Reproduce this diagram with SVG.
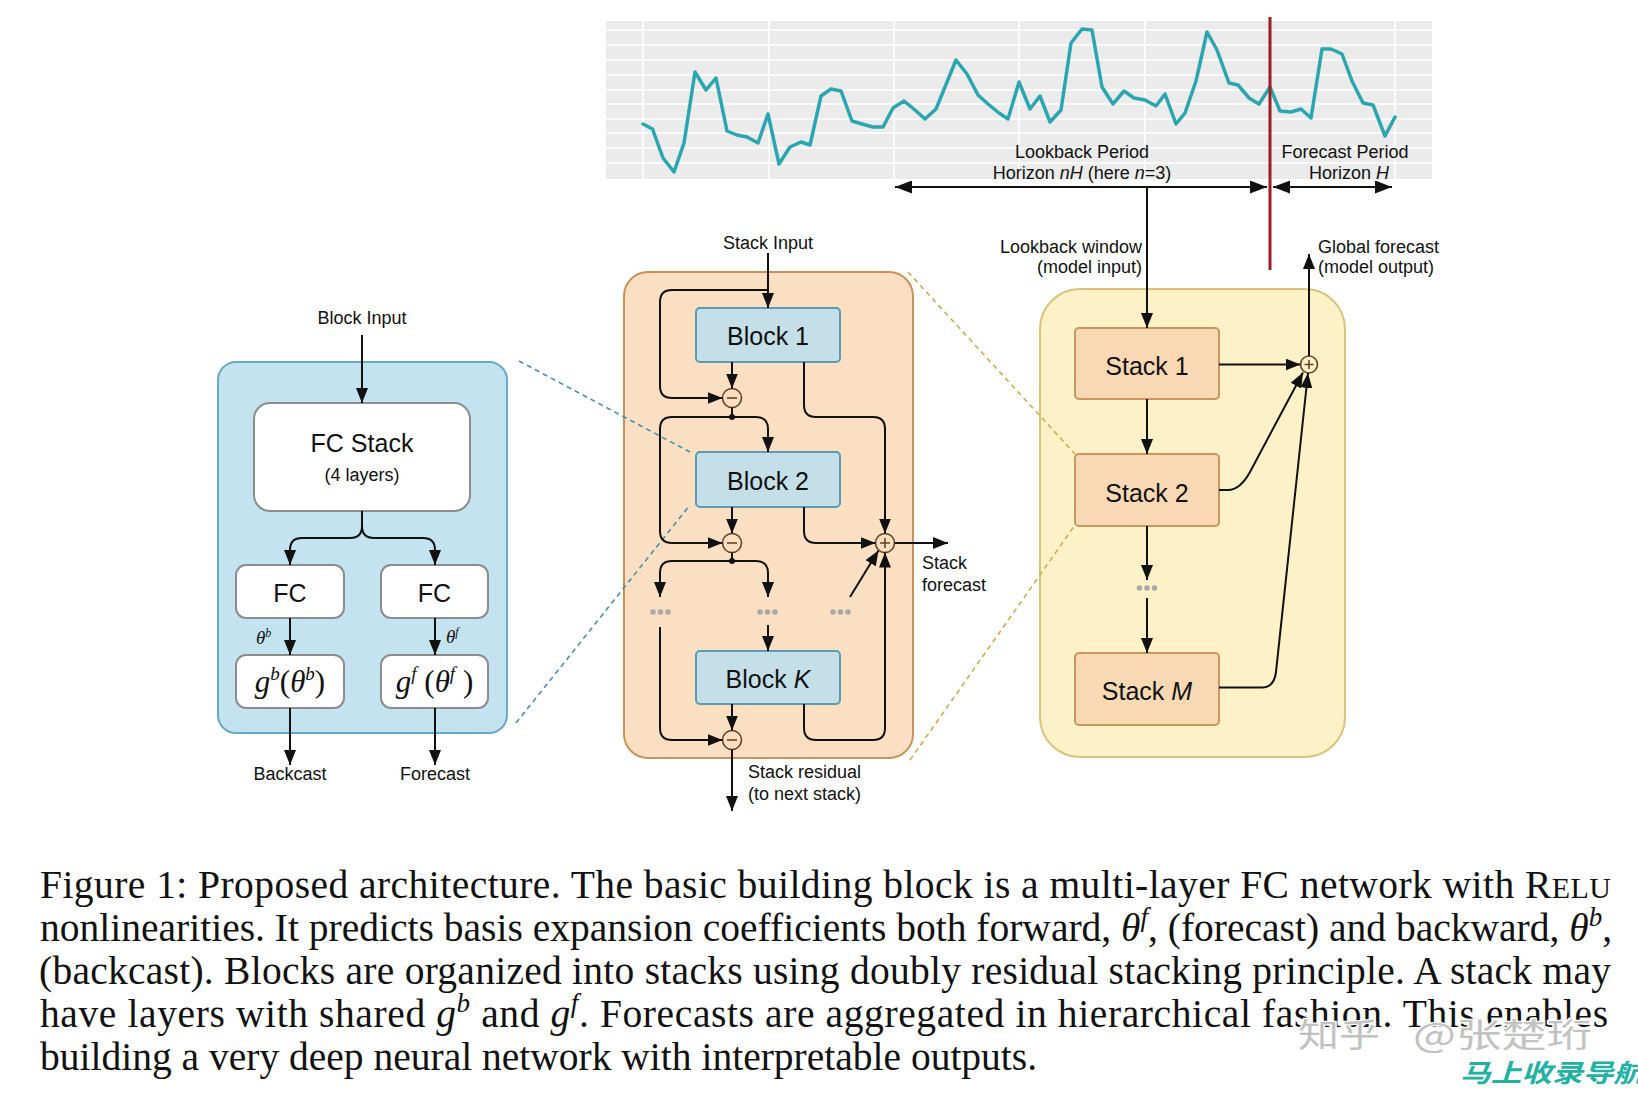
<svg xmlns="http://www.w3.org/2000/svg" width="1638" height="1096" viewBox="0 0 1638 1096">
<defs>
<marker id="ah" viewBox="0 0 15 12" markerWidth="15" markerHeight="12" refX="15" refY="6" orient="auto-start-reverse" markerUnits="userSpaceOnUse"><path d="M0,0 L15,6 L0,12 z" fill="#111"/></marker>
<marker id="ahb" viewBox="0 0 17 13" markerWidth="17" markerHeight="13" refX="17" refY="6.5" orient="auto-start-reverse" markerUnits="userSpaceOnUse"><path d="M0,0 L17,6.5 L0,13 z" fill="#111"/></marker>
<style>
.sans{font-family:"Liberation Sans",Arial,sans-serif;fill:#111}
.serif{font-family:"Liberation Serif","Times New Roman",serif;fill:#111}
.lbl{font-size:18px}
.big{font-size:25px}
.c{text-anchor:middle}
.r{text-anchor:end}
.it{font-style:italic}
.wire{fill:none;stroke:#111;stroke-width:2}
.arr{marker-end:url(#ah)}
.fcbox{fill:#fff;stroke:#8c8c8c;stroke-width:2}
.blk{fill:#c4dfe8;stroke:#5d9ab4;stroke-width:2}
.stk{fill:#f9d9b4;stroke:#c8965e;stroke-width:2}
.op{stroke:#6b4320;stroke-width:1.6}
.dots{fill:#a9a9a9}
.grid{stroke:#fff;stroke-width:1.6}
.cap{font-size:39.5px}
.dashb{fill:none;stroke:#4f8ea6;stroke-width:1.6;stroke-dasharray:5 4}
.dasho{fill:none;stroke:#d5a94e;stroke-width:1.6;stroke-dasharray:5 4}
</style>
</defs>
<rect width="1638" height="1096" fill="#fff"/>

<!-- time series chart -->
<g id="chart">
<rect x="606" y="21" width="826" height="158" fill="#ebebeb"/>
<g class="grid">
<line x1="606" y1="30" x2="1432" y2="30"/><line x1="606" y1="45" x2="1432" y2="45"/><line x1="606" y1="60" x2="1432" y2="60"/><line x1="606" y1="75" x2="1432" y2="75"/><line x1="606" y1="90" x2="1432" y2="90"/><line x1="606" y1="104" x2="1432" y2="104"/><line x1="606" y1="119" x2="1432" y2="119"/><line x1="606" y1="133" x2="1432" y2="133"/><line x1="606" y1="148" x2="1432" y2="148"/><line x1="606" y1="163" x2="1432" y2="163"/>
<line x1="643" y1="21" x2="643" y2="179"/><line x1="769" y1="21" x2="769" y2="179"/><line x1="894" y1="21" x2="894" y2="179"/><line x1="1019" y1="21" x2="1019" y2="179"/><line x1="1145" y1="21" x2="1145" y2="179"/><line x1="1395" y1="21" x2="1395" y2="179"/>
</g>
<polyline fill="none" stroke="#2ba6b0" stroke-width="3.5" stroke-linejoin="round" stroke-linecap="round" points="643,124 652.5,129 663,158 674,172 684,143 695,72 706,90 716,78 727,131 737,135 747,137 758,143 768,114 779,164 790,147 801,142 810,145 821,96 831,89 841,91 852,121 862,124 873,127 883,127 893,108 904,101 915,110 925,119 936,109 945,87 956,60 967,74 978,95 988,104 999,113 1008,119 1019,82 1030,109 1040,96 1050,122 1061,110 1071,43 1082,29 1092,30 1102,87 1113,104 1124,91 1134,98 1145,100 1156,106 1165,94 1176,124 1185,113 1196,81 1207,32 1217,50 1229,83 1238,85 1249,98 1259,104 1270,87 1280,111 1291,112 1301,109 1311,118 1322,49 1331,49 1342,54 1352,81 1363,103 1373,105 1385,136 1395,117"/>
<line x1="1270" y1="17" x2="1270" y2="270" stroke="#9d1d25" stroke-width="3"/>
<text class="sans c lbl" x="1082" y="158">Lookback Period</text>
<text class="sans c lbl" x="1082" y="179">Horizon <tspan class="it">nH</tspan> (here <tspan class="it">n</tspan>=3)</text>
<text class="sans c lbl" x="1345" y="158">Forecast Period</text>
<text class="sans c lbl" x="1349" y="179">Horizon <tspan class="it">H</tspan></text>
</g>

<!-- left: block detail -->
<g id="block-panel"><rect x="218" y="362" width="289" height="371" rx="18" fill="#c3e3f1" stroke="#68a8c9" stroke-width="2"/></g>
<g id="fc-stack"><rect class="fcbox" x="254" y="403" width="216" height="108" rx="16"/><text class="sans c big" x="362" y="452">FC Stack</text><text class="sans c lbl" x="362" y="481">(4 layers)</text></g>
<g id="fc-back"><rect class="fcbox" x="236" y="565" width="108" height="53" rx="10"/><text class="sans c big" x="290" y="602">FC</text></g>
<g id="fc-fore"><rect class="fcbox" x="381" y="565" width="107" height="53" rx="10"/><text class="sans c big" x="434.5" y="602">FC</text></g>
<g id="g-back"><rect class="fcbox" x="236" y="655" width="108" height="53" rx="10"/><text class="serif c" x="290" y="692" font-size="31"><tspan class="it">g</tspan><tspan class="it" font-size="19" dy="-12">b</tspan><tspan dy="12">(</tspan><tspan class="it">θ</tspan><tspan class="it" font-size="19" dy="-12">b</tspan><tspan dy="12">)</tspan></text></g>
<g id="g-fore"><rect class="fcbox" x="381" y="655" width="107" height="53" rx="10"/><text class="serif c" x="434.5" y="692" font-size="31"><tspan class="it">g</tspan><tspan class="it" font-size="19" dy="-12">f</tspan><tspan dy="12"> (</tspan><tspan class="it">θ</tspan><tspan class="it" font-size="19" dy="-12">f</tspan><tspan dy="12"> )</tspan></text></g>
<text class="sans c lbl" x="362" y="324">Block Input</text>
<text class="sans c lbl" x="290" y="780">Backcast</text>
<text class="sans c lbl" x="435" y="780">Forecast</text>
<text class="serif it" x="256" y="644" font-size="19">θ<tspan font-size="12" dy="-7">b</tspan></text>
<text class="serif it" x="446" y="643" font-size="19">θ<tspan font-size="12" dy="-7">f</tspan></text>

<!-- middle: stack detail -->
<g id="stack-panel"><rect x="624" y="272" width="289" height="486" rx="24" fill="#fadfc3" stroke="#c9925c" stroke-width="2"/></g>
<g id="block-1"><rect class="blk" x="696" y="308" width="144" height="54" rx="4"/><text class="sans c big" x="768" y="345">Block 1</text></g>
<g id="block-2"><rect class="blk" x="696" y="452" width="144" height="55" rx="4"/><text class="sans c big" x="768" y="490">Block 2</text></g>
<g id="block-k"><rect class="blk" x="696" y="651" width="144" height="53" rx="4"/><text class="sans c big" x="768" y="688">Block <tspan class="it">K</tspan></text></g>
<g id="minus-1"><circle class="op" cx="732" cy="398" r="9.5" fill="#fadfc3"/><line class="op" x1="727" y1="398" x2="737" y2="398"/></g>
<g id="minus-2"><circle class="op" cx="732" cy="543" r="9.5" fill="#fadfc3"/><line class="op" x1="727" y1="543" x2="737" y2="543"/></g>
<g id="minus-3"><circle class="op" cx="732" cy="740" r="9.5" fill="#fadfc3"/><line class="op" x1="727" y1="740" x2="737" y2="740"/></g>
<g id="plus-stack"><circle class="op" cx="885" cy="543" r="9.5" fill="#fadfc3"/><path class="op" d="M880,543 H890 M885,538 V548"/></g>
<g id="dots-mid" class="dots"><circle cx="653" cy="612" r="2.8"/><circle cx="660.5" cy="612" r="2.8"/><circle cx="668" cy="612" r="2.8"/><circle cx="760" cy="612" r="2.8"/><circle cx="767.5" cy="612" r="2.8"/><circle cx="775" cy="612" r="2.8"/><circle cx="833" cy="612" r="2.8"/><circle cx="840.5" cy="612" r="2.8"/><circle cx="848" cy="612" r="2.8"/></g>
<text class="sans c lbl" x="768" y="249">Stack Input</text>
<text class="sans lbl" x="922" y="569">Stack</text>
<text class="sans lbl" x="922" y="591">forecast</text>
<text class="sans lbl" x="748" y="778">Stack residual</text>
<text class="sans lbl" x="748" y="800">(to next stack)</text>

<!-- right: model -->
<g id="model-panel"><rect x="1040" y="289" width="305" height="468" rx="40" fill="#fdf1c8" stroke="#dcc27c" stroke-width="2"/></g>
<g id="stack-1"><rect class="stk" x="1075" y="328" width="144" height="71" rx="4"/><text class="sans c big" x="1147" y="375">Stack 1</text></g>
<g id="stack-2"><rect class="stk" x="1075" y="454" width="144" height="72" rx="4"/><text class="sans c big" x="1147" y="502">Stack 2</text></g>
<g id="stack-m"><rect class="stk" x="1075" y="653" width="144" height="72" rx="4"/><text class="sans c big" x="1147" y="700">Stack <tspan class="it">M</tspan></text></g>
<g id="plus-model"><circle class="op" cx="1309" cy="364.5" r="8.5" fill="#fdf1c8"/><path class="op" d="M1304.5,364.5 H1313.5 M1309,360 V369"/></g>
<g id="dots-right" class="dots"><circle cx="1139.5" cy="588" r="2.8"/><circle cx="1147" cy="588" r="2.8"/><circle cx="1154.5" cy="588" r="2.8"/></g>
<text class="sans r lbl" x="1142" y="253">Lookback window</text>
<text class="sans r lbl" x="1142" y="273">(model input)</text>
<text class="sans lbl" x="1318" y="253">Global forecast</text>
<text class="sans lbl" x="1318" y="273">(model output)</text>

<!-- connectors -->
<g id="connectors">
<path class="dashb" d="M519,361 L690,452 M516,723 L690,505"/>
<path class="dasho" d="M908,272 L1075,454 M910,760 L1075,525"/>
<path class="wire" d="M895,187 H1267" marker-start="url(#ahb)" marker-end="url(#ahb)"/>
<path class="wire" d="M1273,187 H1392" marker-start="url(#ahb)" marker-end="url(#ahb)"/>
<path class="wire arr" d="M1147,187 V328"/>
<path class="wire arr" d="M362,335 V403"/>
<path class="wire arr" d="M362,511 V526 Q362,538 350,538 H302 Q290,538 290,550 V565"/>
<path class="wire arr" d="M362,526 Q362,538 374,538 H423 Q435,538 435,550 V565"/>
<path class="wire arr" d="M290,618 V655"/>
<path class="wire arr" d="M435,618 V655"/>
<path class="wire arr" d="M290,708 V765"/>
<path class="wire arr" d="M435,708 V765"/>
<path class="wire arr" d="M768,253 V308"/>
<path class="wire arr" d="M768,290 H672 Q660,290 660,302 V386 Q660,398 672,398 H722.5"/>
<path class="wire arr" d="M732,362 V388.5"/>
<path class="wire" d="M732,407.5 V417"/>
<circle cx="732" cy="417" r="3" fill="#111"/>
<path class="wire arr" d="M732,417 H672 Q660,417 660,429 V531 Q660,543 672,543 H722.5"/>
<path class="wire arr" d="M732,417 H756 Q768,417 768,429 V452"/>
<path class="wire arr" d="M804,362 V405 Q804,417 816,417 H873 Q885,417 885,429 V533.5"/>
<path class="wire arr" d="M732,507 V533.5"/>
<path class="wire arr" d="M804,507 V531 Q804,543 816,543 H875.5"/>
<path class="wire arr" d="M894.5,543 H948"/>
<path class="wire" d="M732,552.5 V561"/>
<circle cx="732" cy="561" r="3" fill="#111"/>
<path class="wire arr" d="M732,561 H672 Q660,561 660,573 V597"/>
<path class="wire arr" d="M732,561 H756 Q768,561 768,573 V597"/>
<path class="wire arr" d="M768,625 V651"/>
<path class="wire arr" d="M660,627 V728 Q660,740 672,740 H722.5"/>
<path class="wire arr" d="M732,704 V730.5"/>
<path class="wire arr" d="M804,704 V728 Q804,740 816,740 H873 Q885,740 885,728 V552.5"/>
<path class="wire arr" d="M850,597 L878.5,550.5"/>
<path class="wire arr" d="M732,749.5 V811"/>
<path class="wire arr" d="M1147,399 V454"/>
<path class="wire arr" d="M1147,526 V580"/>
<path class="wire arr" d="M1147,598 V653"/>
<path class="wire arr" d="M1219,364.5 H1300.5"/>
<path class="wire arr" d="M1219,490 H1228 Q1240,490 1250,472 L1303,372.5"/>
<path class="wire arr" d="M1219,687.5 H1262 Q1274,687.5 1276,672 L1308,373"/>
<path class="wire arr" d="M1309,356 V254"/>
</g>

<!-- caption -->
<g id="caption" class="serif cap">
<text x="40" y="898" textLength="1571" lengthAdjust="spacing">Figure 1: Proposed architecture. The basic building block is a multi-layer FC network with R<tspan font-size="30">ELU</tspan></text>
<text x="40" y="941" textLength="1572" lengthAdjust="spacing">nonlinearities. It predicts basis expansion coefficients both forward, <tspan class="it">θ</tspan><tspan class="it" font-size="27" dy="-15">f</tspan><tspan dy="15">, (forecast) and backward, </tspan><tspan class="it">θ</tspan><tspan class="it" font-size="27" dy="-15">b</tspan><tspan dy="15">,</tspan></text>
<text x="39" y="984" textLength="1572" lengthAdjust="spacing">(backcast). Blocks are organized into stacks using doubly residual stacking principle. A stack may</text>
<text x="40" y="1027" textLength="1568" lengthAdjust="spacing">have layers with shared <tspan class="it">g</tspan><tspan class="it" font-size="27" dy="-15">b</tspan><tspan dy="15"> and </tspan><tspan class="it">g</tspan><tspan class="it" font-size="27" dy="-15">f</tspan><tspan dy="15">. Forecasts are aggregated in hierarchical fashion. This enables</tspan></text>
<text x="40" y="1070">building a very deep neural network with interpretable outputs.</text>
</g>

<!-- watermark -->
<g id="watermark" font-family="'Noto Sans CJK SC',sans-serif">
<text x="1298" y="1047" font-size="33" textLength="82" lengthAdjust="spacingAndGlyphs" fill="#c2c2c2" stroke="#fff" stroke-width="2.5" paint-order="stroke">知乎</text>
<text x="1413" y="1047" font-size="33" textLength="179" lengthAdjust="spacingAndGlyphs" fill="#c2c2c2" stroke="#fff" stroke-width="2.5" paint-order="stroke">@张楚珩</text>
<text x="1460" y="1082" font-size="25" font-weight="bold" font-style="italic" textLength="184" lengthAdjust="spacingAndGlyphs" fill="#22b1a3">马上收录导航</text>
</g>
</svg>
